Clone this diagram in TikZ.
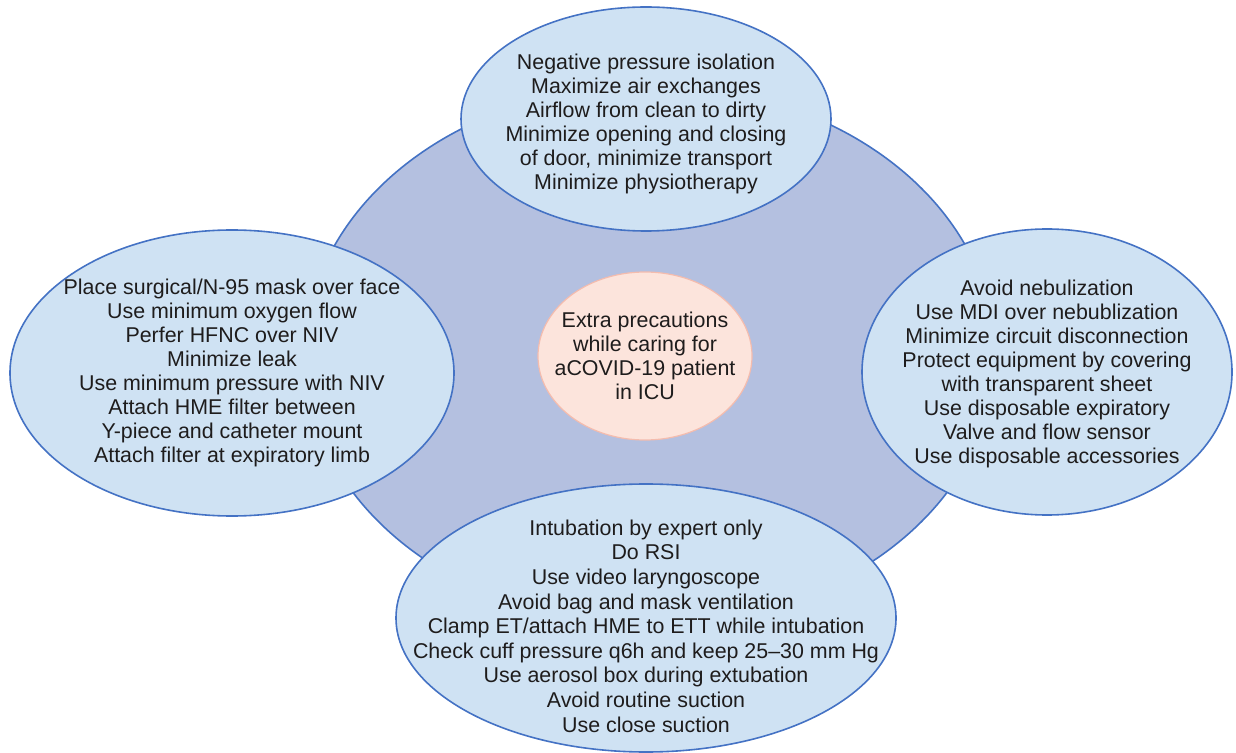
\documentclass[tikz,border=0pt]{standalone}
\usepackage{fontspec}
\setmainfont{Liberation Sans}
\usepackage{tikz}
\usetikzlibrary{shapes.geometric}
\definecolor{ringfill}{RGB}{180, 192, 224}
\definecolor{ringline}{RGB}{68, 114, 196}
\definecolor{bubblefill}{RGB}{207, 226, 243}
\definecolor{corefill}{RGB}{252, 228, 220}
\definecolor{coreline}{RGB}{244, 188, 174}
\definecolor{textgray}{RGB}{30, 28, 28}

\begin{document}
\begin{tikzpicture}[
    x=0.5pt, y=-0.5pt,
    font=\fontsize{10.7}{12}\selectfont,
    ring/.style={ellipse, draw=ringline, fill=ringfill, line width=0.8pt, inner sep=0pt},
    bubble/.style={ellipse, draw=ringline, fill=bubblefill, line width=0.8pt, inner sep=0pt},
    core/.style={ellipse, draw=coreline, fill=corefill, line width=0.6pt, inner sep=0pt},
    note/.style={align=center, text=textgray, inner sep=0pt}
]
    \useasboundingbox (0,0) rectangle (1236,753);

    \node [ring, minimum width=345pt, minimum height=270pt] (ring) at (650,355) {};

    % outer bubbles
    \node [bubble, minimum width=185pt, minimum height=112pt] (room) at (646,119) {};
    \node [bubble, minimum width=222pt, minimum height=143pt] (oxygen) at (232,373) {};
    \node [bubble, minimum width=185pt, minimum height=143pt] (vent) at (1047,372) {};
    \node [bubble, minimum width=250pt, minimum height=134pt] (airway) at (646,618) {};
    \node [core, minimum width=107pt, minimum height=84pt] (title) at (645,356) {};

    \node [note] (roomtext) at ([yshift=-2.5pt]room.center) {Negative pressure isolation\\Maximize air exchanges\\Airflow from clean to dirty\\Minimize opening and closing\\of door, minimize transport\\Minimize physiotherapy};
    \node [note] (oxygentext) at (oxygen.center) {Place surgical/N-95 mask over face\\Use minimum oxygen flow\\Perfer HFNC over NIV\\Minimize leak\\Use minimum pressure with NIV\\Attach HME filter between\\Y-piece and catheter mount\\Attach filter at expiratory limb};
    \node [note] (venttext) at ([yshift=-1pt]vent.center) {Avoid nebulization\\Use MDI over nebublization\\Minimize circuit disconnection\\Protect equipment by covering\\with transparent sheet\\Use disposable expiratory\\Valve and flow sensor\\Use disposable accessories};
    \node [note, font=\fontsize{10.7}{12.3}\selectfont] (airwaytext) at ([yshift=-4pt]airway.center) {Intubation by expert only\\Do RSI\\Use video laryngoscope\\Avoid bag and mask ventilation\\Clamp ET/attach HME to ETT while intubation\\Check cuff pressure q6h and keep 25–30 mm Hg\\Use aerosol box during extubation\\Avoid routine suction\\Use close suction};
    \node [note] (titletext) at (title.center) {Extra precautions\\while caring for\\aCOVID-19 patient\\in ICU};

\end{tikzpicture}
\end{document}
